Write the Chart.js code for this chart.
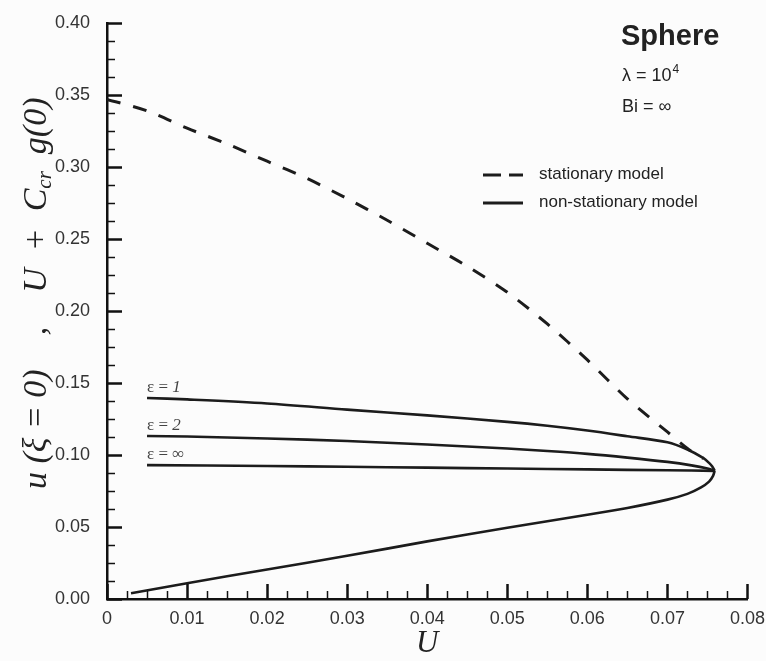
<!DOCTYPE html>
<html>
<head>
<meta charset="utf-8">
<script src="https://cdn.jsdelivr.net/npm/chart.js@4.4.1/dist/chart.umd.min.js"></script>
<style>
  html, body { margin: 0; padding: 0; background: #fcfcfc; }
  #wrap { width: 766px; height: 661px; position: relative; }
</style>
</head>
<body>
<div id="wrap"><canvas id="chart" width="766" height="661"></canvas></div>
<script>
// stationary model (dashed)
const stationaryU = [0, 0.005, 0.01, 0.015, 0.02, 0.025, 0.03, 0.035, 0.04, 0.045, 0.05, 0.055, 0.06, 0.065, 0.07, 0.0725, 0.0745];
const stationaryY = [0.347, 0.339, 0.327, 0.316, 0.304, 0.292, 0.278, 0.263, 0.247, 0.231, 0.213, 0.191, 0.166, 0.139, 0.116, 0.1045, 0.0975];

// non-stationary model, upper branches for each epsilon
const eps1U = [0.005, 0.01, 0.02, 0.03, 0.04, 0.05, 0.055, 0.06, 0.065, 0.07, 0.0725, 0.0745, 0.0752, 0.0756, 0.0759];
const eps1Y = [0.1396, 0.1386, 0.1358, 0.1315, 0.1275, 0.1230, 0.1203, 0.1170, 0.1130, 0.1088, 0.1038, 0.0978, 0.0945, 0.0920, 0.0890];
const eps2U = [0.005, 0.01, 0.02, 0.03, 0.04, 0.05, 0.055, 0.06, 0.065, 0.07, 0.073, 0.075, 0.0759];
const eps2Y = [0.1132, 0.1128, 0.1115, 0.1097, 0.1073, 0.1045, 0.1028, 0.1008, 0.0982, 0.0952, 0.0928, 0.0906, 0.0890];
const epsInfU = [0.005, 0.02, 0.03, 0.04, 0.05, 0.06, 0.07, 0.0759];
const epsInfY = [0.0930, 0.0924, 0.0918, 0.0912, 0.0906, 0.0900, 0.0894, 0.0890];

// common lower branch
const lowerU = [0.0759, 0.0757, 0.0752, 0.0742, 0.0725, 0.07, 0.065, 0.06, 0.05, 0.04, 0.03, 0.02, 0.01, 0.003];
const lowerY = [0.0890, 0.0855, 0.0815, 0.0775, 0.0730, 0.0690, 0.0632, 0.0585, 0.0495, 0.0400, 0.0300, 0.0205, 0.0110, 0.0040];

const epsLabels = ['1', '2', '\u221E'];
const xTicks = [0, 0.01, 0.02, 0.03, 0.04, 0.05, 0.06, 0.07, 0.08];
const yTicks = [0, 0.05, 0.10, 0.15, 0.20, 0.25, 0.30, 0.35, 0.40];

const INK = '#1c1c1c';
const SANS = '"Liberation Sans", Arial, sans-serif';
const SERIF = '"Liberation Serif", "Times New Roman", serif';

function pts(us, ys) {
  return us.map((u, i) => ({ x: u, y: ys[i] }));
}

function solid(data) {
  return { data, borderColor: INK, borderWidth: 2.6, pointRadius: 0, showLine: true, tension: 0.3, fill: false };
}

// inward ticks, titles, curve labels and the legend box
const decorations = {
  id: 'decorations',
  afterDraw(chart) {
    const { ctx, scales: { x, y } } = chart;
    const x0 = x.getPixelForValue(0), y0 = y.getPixelForValue(0);
    ctx.save();
    ctx.strokeStyle = '#111';
    ctx.lineCap = 'butt';

    for (let i = 0; i <= 32; i++) {
      const px = Math.round(x.getPixelForValue(i * 0.0025)) + 0.5;
      const major = i % 4 === 0;
      ctx.lineWidth = major ? 2.5 : 1.5;
      ctx.beginPath();
      ctx.moveTo(px, y0);
      ctx.lineTo(px, y0 - (major ? 15 : 8));
      ctx.stroke();
    }
    for (let i = 0; i <= 32; i++) {
      const py = Math.round(y.getPixelForValue(i * 0.0125)) + 0.5;
      const major = i % 4 === 0;
      ctx.lineWidth = major ? 2.5 : 1.5;
      ctx.beginPath();
      ctx.moveTo(x0, py);
      ctx.lineTo(x0 + (major ? 15 : 8), py);
      ctx.stroke();
    }

    // y axis title with subscript, written bottom-up
    ctx.save();
    ctx.translate(37, 489);
    ctx.rotate(-Math.PI / 2);
    ctx.fillStyle = '#222';
    ctx.textBaseline = 'middle';
    const big = 'italic 34px ' + SERIF, small = 'italic 21px ' + SERIF;
    const parts = [
      ['u (\u03BE = 0)', big, 0],
      ['    ,    ', big, 0],
      ['U  +  C', big, 0],
      ['cr', small, 8],
      ['  g(0)', big, 0]
    ];
    let cx = 0;
    parts.forEach(p => {
      ctx.font = p[1];
      ctx.fillText(p[0], cx, p[2]);
      cx += ctx.measureText(p[0]).width;
    });
    ctx.restore();

    // epsilon labels above each upper branch
    ctx.fillStyle = '#444';
    ctx.textBaseline = 'alphabetic';
    [[eps1U, eps1Y], [eps2U, eps2Y], [epsInfU, epsInfY]].forEach((s, i) => {
      const lx = x.getPixelForValue(s[0][0]);
      const ly = y.getPixelForValue(s[1][0]) - 6;
      ctx.font = '17px ' + SERIF;
      const head = '\u03B5 = ';
      ctx.fillText(head, lx, ly);
      const w = ctx.measureText(head).width;
      ctx.font = (i < 2 ? 'italic ' : '') + '17px ' + SERIF;
      ctx.fillText(epsLabels[i], lx + w, ly);
    });

    // case annotation
    ctx.fillStyle = '#222';
    ctx.font = 'bold 29px ' + SANS;
    ctx.fillText('Sphere', 621, 45);
    ctx.font = '18px ' + SANS;
    ctx.fillText('\u03BB = 10', 622, 81);
    const lw = ctx.measureText('\u03BB = 10').width;
    ctx.font = '12px ' + SANS;
    ctx.fillText('4', 622 + lw + 1, 73);
    ctx.font = '18px ' + SANS;
    ctx.fillText('Bi = \u221E', 622, 112);

    // legend
    ctx.strokeStyle = INK;
    ctx.lineWidth = 3;
    ctx.setLineDash([18, 8]);
    ctx.beginPath();
    ctx.moveTo(483, 175);
    ctx.lineTo(523, 175);
    ctx.stroke();
    ctx.setLineDash([]);
    ctx.beginPath();
    ctx.moveTo(483, 203);
    ctx.lineTo(523, 203);
    ctx.stroke();
    ctx.fillStyle = '#222';
    ctx.font = '17px ' + SANS;
    ctx.textBaseline = 'middle';
    ctx.fillText('stationary model', 539, 174);
    ctx.fillText('non-stationary model', 539, 202);
    ctx.restore();
  }
};

new Chart(document.getElementById('chart'), {
  type: 'scatter',
  data: {
    datasets: [
      {
        data: pts(stationaryU, stationaryY),
        borderColor: INK, borderWidth: 3, borderDash: [14, 13],
        pointRadius: 0, showLine: true, tension: 0.3, fill: false
      },
      solid(pts(eps1U, eps1Y)),
      solid(pts(eps2U, eps2Y)),
      solid(pts(epsInfU, epsInfY)),
      solid(pts(lowerU, lowerY))
    ]
  },
  options: {
    responsive: false,
    animation: false,
    layout: { padding: { top: 23, right: 6, left: 0, bottom: 0 } },
    plugins: { legend: { display: false }, tooltip: { enabled: false } },
    scales: {
      x: {
        type: 'linear', min: 0, max: 0.08,
        afterFit: s => { s.height = 62; },
        afterBuildTicks: s => { s.ticks = xTicks.map(v => ({ value: v })); },
        grid: { display: false },
        border: { display: true, color: '#111', width: 2.5 },
        ticks: {
          color: '#333', padding: 1,
          font: { family: SANS, size: 18 },
          callback: v => v === 0 ? '0' : v.toFixed(2)
        },
        title: {
          display: true, text: 'U', color: '#222',
          font: { family: SERIF, size: 31, style: 'italic', lineHeight: 1.1 },
          padding: { top: 0, bottom: 0 }
        }
      },
      y: {
        type: 'linear', min: 0, max: 0.4,
        afterFit: s => { s.width = 107; },
        afterBuildTicks: s => { s.ticks = yTicks.map(v => ({ value: v })); },
        grid: { display: false },
        border: { display: true, color: '#111', width: 2.5 },
        ticks: {
          color: '#333', padding: 9,
          font: { family: SANS, size: 18 },
          callback: v => v.toFixed(2)
        }
      }
    }
  },
  plugins: [decorations]
});
</script>
</body>
</html>
